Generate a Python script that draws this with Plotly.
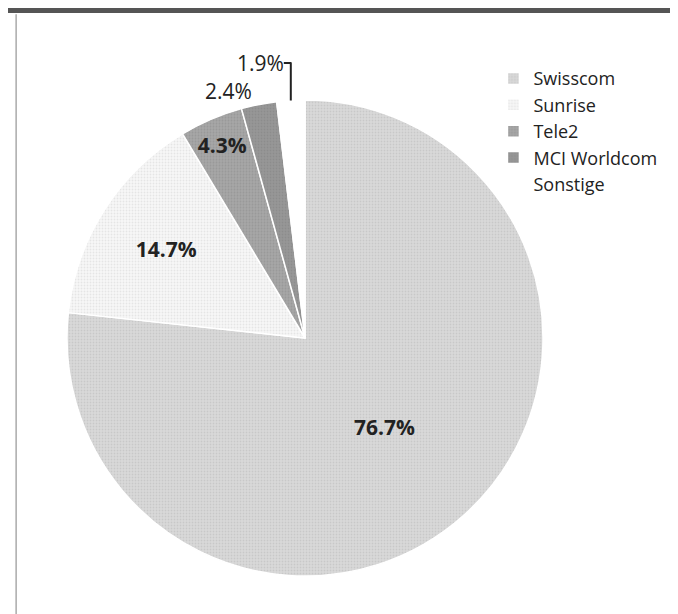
import plotly.graph_objects as go

labels = ["Swisscom", "Sunrise", "Tele2", "MCI Worldcom", "Sonstige"]
values = [76.7, 14.7, 4.3, 2.4, 1.9]
label_text = ["<b>76.7%</b>", "<b>14.7%</b>", "<b>4.3%</b>", "2.4%", "1.9%"]

colors = ["#d9d9d9", "#f7f7f7", "#a6a6a6", "#979797", "#ffffff"]
dot_colors = ["#b8b8b8", "#d4d4d4", "#8c8c8c", "#828282", "#ffffff"]
dot_shapes = [".", ".", ".", ".", ""]
positions = ["inside", "inside", "inside", "outside", "outside"]

W, H = 678, 614
cx, cy, r = 297, 330, 238

fig = go.Figure(go.Pie(
    labels=labels,
    values=values,
    text=label_text,
    textinfo="text",
    textposition=positions,
    sort=False,
    direction="clockwise",
    rotation=0,
    marker=dict(colors=colors, line=dict(color="#ffffff", width=1.5),
                pattern=dict(shape=dot_shapes, fgcolor=dot_colors, fillmode="overlay",
                             size=3, solidity=0.3)),
    textfont=dict(family="Open Sans, sans-serif", size=21, color="#222222"),
    insidetextorientation="horizontal",
    domain=dict(x=[(cx - r) / W, (cx + r) / W],
                y=[(H - cy - r) / H, (H - cy + r) / H]),
    hoverinfo="label+percent",
))

fig.update_layout(
    width=W, height=H,
    margin=dict(l=0, r=0, t=0, b=0),
    paper_bgcolor="#ffffff",
    plot_bgcolor="#ffffff",
    showlegend=True,
    legend=dict(x=0.716, y=0.915, xanchor="left", yanchor="top",
                font=dict(family="Open Sans, sans-serif", size=18, color="#222222"),
                bgcolor="rgba(0,0,0,0)"),
    shapes=[
        dict(type="line", xref="paper", yref="paper", x0=0, x1=1, y0=0.996, y1=0.996,
             line=dict(color="#555555", width=5)),
        dict(type="line", xref="paper", yref="paper", x0=0.012, x1=0.012, y0=0.0, y1=0.99,
             line=dict(color="#aaaaaa", width=1.5)),
    ],
)

fig.write_html("out.html")
